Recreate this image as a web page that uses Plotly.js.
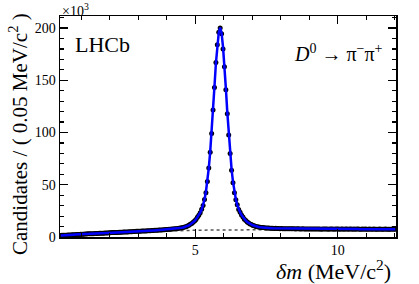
<!DOCTYPE html>
<html>
<head>
<meta charset="utf-8">
<script src="https://cdn.plot.ly/plotly-3.0.1.min.js"></script>
<style>html,body{margin:0;padding:0;background:#fff;}#chart{width:419px;height:284px;}</style>
</head>
<body>
<div id="chart"></div>
<script>
// Histogram binning (MeV/c^2)
const binLow = 0.25;
const binWidth = 0.05;

// Data: candidates per bin, in units of 10^3
const dataCounts = [
1.4,1.6,1.6,1.7,1.7,1.9,2.0,2.0,2.1,2.2,2.2,2.4,2.4,2.5,2.6,
2.7,2.7,2.8,2.8,3.0,3.0,3.1,3.2,3.2,3.3,3.4,3.4,3.5,3.5,3.7,3.7,3.8,3.9,3.9,4.0,
4.0,4.2,4.2,4.3,4.4,4.4,4.5,4.6,4.6,4.7,4.7,4.9,4.9,5.0,5.1,5.1,5.2,5.2,5.4,5.4,
5.5,5.5,5.7,5.7,5.8,5.8,6.0,6.0,6.1,6.2,6.2,6.4,6.4,6.5,6.6,6.7,6.8,6.9,7.0,7.1,
7.2,7.3,7.4,7.6,7.6,7.8,8.0,8.1,8.3,8.5,8.8,9.2,9.5,9.9,10.6,11.2,12.1,12.9,14.1,15.4,
16.8,18.8,20.9,23.1,26.5,30.1,36.0,42.4,53.0,66.0,81.0,99.0,121.5,143.0,167.0,184.0,196.0,
200.0,
194.5,180.0,163.0,141.0,118.0,97.6,80.0,64.0,52.0,42.4,35.6,30.9,26.4,23.8,21.0,19.1,17.1,15.8,14.3,13.4,12.4,11.9,
11.1,10.7,10.1,9.9,9.5,9.4,9.0,9.0,8.8,8.6,8.6,8.5,8.4,8.4,8.3,8.2,8.3,8.1,8.1,8.0,
8.1,8.0,7.9,8.0,7.9,7.9,7.8,7.9,7.8,7.8,7.7,7.8,7.8,7.7,7.7,7.8,7.7,7.6,7.7,7.7,
7.6,7.7,7.7,7.6,7.6,7.7,7.6,7.6,7.5,7.6,7.6,7.7,7.6,7.5,7.6,7.6,7.6,7.5,7.6,7.6,
7.6,7.5,7.6,7.6,7.5,7.6,7.6,7.5,7.6,7.6,
7.5,7.6,7.5,7.6,7.6,7.5,7.5,7.6,7.5,7.6,
7.5,7.5,7.6,7.5,7.5,7.6,7.5,7.5,7.5,7.6,
7.5,7.5,7.5,7.6,7.5,7.5,7.5,7.5,7.6,7.5,
7.5
];

// Total fit (signal + background), per bin, 10^3
const fitTotal = [
1.5,1.5,1.6,1.7,1.8,1.9,1.9,2.0,2.1,2.2,2.3,2.3,2.4,2.5,2.6,
2.6,2.7,2.8,2.9,2.9,3.0,3.1,3.1,3.2,3.3,3.3,3.4,3.5,3.6,3.6,3.7,3.8,3.8,3.9,4.0,
4.1,4.1,4.2,4.3,4.3,4.4,4.5,4.5,4.6,4.7,4.8,4.8,4.9,5.0,5.0,5.1,5.2,5.3,5.3,5.4,
5.5,5.6,5.6,5.7,5.8,5.9,5.9,6.0,6.1,6.2,6.3,6.3,6.4,6.5,6.6,6.7,6.8,6.9,7.0,7.1,
7.2,7.3,7.4,7.5,7.6,7.8,7.9,8.1,8.3,8.5,8.8,9.1,9.5,9.9,10.5,11.2,12.0,12.9,14.0,15.3,
16.9,18.7,20.8,23.3,26.3,30.3,35.8,43.3,53.5,66.0,81.5,100.0,121.5,144.0,166.3,184.3,195.5,
200.5,
195.0,182.0,164.5,142.5,119.5,98.5,80.5,65.0,53.0,43.3,36.1,30.6,26.6,23.6,21.1,19.0,17.2,15.7,14.4,13.3,12.5,11.8,
11.2,10.6,10.2,9.9,9.6,9.3,9.1,9.0,8.8,8.7,8.6,8.5,8.5,8.4,8.3,8.3,8.2,8.2,8.1,8.1,
8.1,8.0,8.0,8.0,7.9,7.9,7.9,7.9,7.8,7.8,7.8,7.8,7.8,7.8,7.7,7.7,7.7,7.7,7.7,7.7,
7.7,7.7,7.7,7.7,7.6,7.6,7.6,7.6,7.6,7.6,7.6,7.6,7.6,7.6,7.6,7.6,7.6,7.6,7.6,7.6,
7.6,7.6,7.6,7.6,7.6,7.6,7.6,7.6,7.6,7.6,
7.6,7.6,7.6,7.6,7.6,7.5,7.5,7.5,7.5,7.5,
7.5,7.5,7.5,7.5,7.5,7.5,7.5,7.5,7.5,7.5,
7.5,7.5,7.5,7.5,7.5,7.5,7.5,7.5,7.5,7.5,
7.5
];

// Background component of the fit, per bin, 10^3
const fitBackground = [
1.30,1.38,1.45,1.53,1.60,1.68,1.76,1.83,1.91,1.98,2.06,2.13,2.21,2.29,2.36,
2.43,2.50,2.56,2.63,2.69,2.76,2.82,2.89,2.95,3.02,3.08,3.15,3.21,3.28,3.34,3.41,3.47,3.54,3.60,3.67,
3.73,3.79,3.85,3.91,3.97,4.03,4.09,4.15,4.21,4.27,4.33,4.39,4.45,4.51,4.57,4.63,4.69,4.75,4.81,4.87,
4.93,4.98,5.03,5.08,5.13,5.18,5.23,5.28,5.33,5.38,5.43,5.48,5.53,5.58,5.63,5.68,5.73,5.78,5.83,5.88,
5.92,5.95,5.98,6.01,6.04,6.07,6.10,6.13,6.16,6.19,6.22,6.25,6.28,6.31,6.34,6.37,6.40,6.43,6.46,6.49,
6.51,6.52,6.54,6.55,6.57,6.58,6.60,6.61,6.63,6.64,6.66,6.67,6.69,6.70,6.72,6.73,6.75,6.76,6.78,6.79,
6.81,6.82,6.83,6.84,6.85,6.86,6.87,6.88,6.89,6.90,6.91,6.92,6.93,6.94,6.95,6.96,6.97,6.98,6.99,7.00,
7.00,7.01,7.01,7.02,7.02,7.03,7.03,7.04,7.04,7.05,7.05,7.06,7.06,7.07,7.07,7.08,7.08,7.09,7.09,7.10,
7.10,7.11,7.11,7.12,7.12,7.13,7.13,7.14,7.14,7.15,7.15,7.16,7.16,7.17,7.17,7.18,7.18,7.19,7.19,7.20,
7.20,7.21,7.21,7.22,7.22,7.23,7.23,7.24,7.24,7.25,7.25,7.26,7.26,7.27,7.27,7.28,7.28,7.29,7.29,7.30,
7.30,7.30,7.31,7.31,7.31,7.31,7.32,7.32,7.32,7.32,7.33,7.33,7.33,7.33,7.34,7.34,7.34,7.34,7.35,7.35,
7.35,7.35,7.36,7.36,7.36,7.36,7.37,7.37,7.37,7.37,7.38,7.38,7.38,7.38,7.39,7.39,7.39,7.39,7.40,7.40,
7.40
];

const xTickVals = [5, 10];
const yTickVals = [0, 50, 100, 150, 200];

function centers(arr) { return arr.map((_, i) => binLow + binWidth * (i + 0.5)); }

const FONT = '"Liberation Serif", "Times New Roman", Times, serif';

const traces = [
  { x: centers(fitBackground), y: fitBackground, type: 'scatter', mode: 'lines',
    line: { color: '#555555', width: 1.5, dash: 'dot' }, hoverinfo: 'skip', showlegend: false },
  { x: centers(dataCounts), y: dataCounts, type: 'scatter', mode: 'markers',
    marker: { color: '#000000', size: 5 }, showlegend: false },
  { x: centers(fitTotal), y: fitTotal, type: 'scatter', mode: 'lines',
    line: { color: '#0000ff', width: 2.5 }, hoverinfo: 'skip', showlegend: false }
];

const axisCommon = {
  showgrid: false, zeroline: false, showline: true, linecolor: '#000', linewidth: 1.5,
  mirror: 'ticks', ticks: 'inside', ticklen: 8, tickwidth: 1.2, tickcolor: '#000',
  tickfont: { family: FONT, size: 14, color: '#000' }
};

const layout = {
  width: 419, height: 284,
  margin: { l: 60, r: 23, t: 16, b: 47 },
  font: { family: FONT, size: 14, color: '#000' },
  paper_bgcolor: '#fff', plot_bgcolor: '#fff',
  showlegend: false,
  xaxis: Object.assign({}, axisCommon, {
    range: [0.25, 12.05], tickmode: 'array', tickvals: xTickVals, ticktext: xTickVals.map(String),
    minor: { dtick: 1, tick0: 0, ticklen: 4, ticks: 'inside', tickcolor: '#000', tickwidth: 1.2 }
  }),
  yaxis: Object.assign({}, axisCommon, {
    range: [0, 211.5], tickmode: 'array', tickvals: yTickVals, ticktext: yTickVals.map(String),
    minor: { dtick: 10, tick0: 0, ticklen: 4, ticks: 'inside', tickcolor: '#000', tickwidth: 1.2 }
  }),
  annotations: [
    { text: 'Candidates / ( 0.05 MeV/c<sup>2</sup> )', xref: 'paper', yref: 'paper',
      x: -0.125, y: 0.466, xanchor: 'center', yanchor: 'middle', textangle: -90, showarrow: false,
      font: { family: FONT, size: 21, color: '#000' } },
    { text: '<i>δm</i> (MeV/c<sup>2</sup>)', xref: 'paper', yref: 'paper',
      x: 0.991, y: -0.15, xanchor: 'right', yanchor: 'middle', showarrow: false,
      font: { family: FONT, size: 22, color: '#000' } },
    { text: '×10<sup>3</sup>', xref: 'paper', yref: 'paper',
      x: 0, y: 1.028, xanchor: 'left', yanchor: 'middle', showarrow: false,
      font: { family: FONT, size: 14, color: '#000' } },
    { text: 'LHCb', xref: 'paper', yref: 'paper',
      x: 0.039, y: 0.869, xanchor: 'left', yanchor: 'middle', showarrow: false,
      font: { family: FONT, size: 22, color: '#000' } },
    { text: '<i>D</i><sup>0</sup> → π<sup>−</sup>π<sup>+</sup>', xref: 'paper', yref: 'paper',
      x: 0.967, y: 0.833, xanchor: 'right', yanchor: 'middle', showarrow: false,
      font: { family: FONT, size: 20, color: '#000' } }
  ]
};

Plotly.newPlot('chart', traces, layout, { staticPlot: true, displayModeBar: false });
</script>
</body>
</html>
